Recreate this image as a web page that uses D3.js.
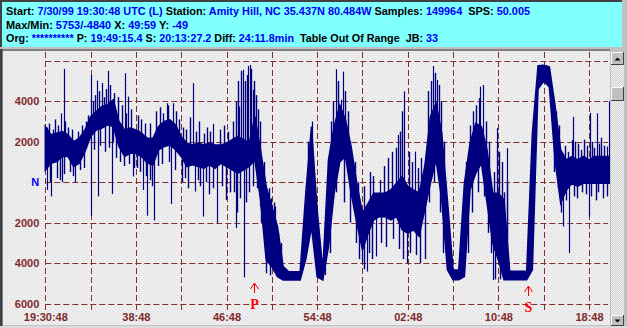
<!DOCTYPE html>
<html>
<head>
<meta charset="utf-8">
<title>Seismogram</title>
<script src="https://cdn.jsdelivr.net/npm/d3@7/dist/d3.min.js"></script>
<style>
  body { margin: 0; background: #c0c0c0; overflow: hidden; }
  svg { display: block; }
  text { white-space: pre; }
</style>
</head>
<body>
<svg id="chart" width="627" height="328"></svg>
<script>
// header lines: [text, isValue]
const hdrRows = [
  [["Start: ",0],["7/30/99 19:30:48 UTC (L)",1],[" Station: ",0],["Amity Hill, NC 35.437N 80.484W",1],[" Samples: ",0],["149964",1],["  SPS: ",0],["50.005",1]],
  [["Max/Min: ",0],["5753/-4840",1],[" X: ",0],["49:59",1],[" Y: ",0],["-49",1]],
  [["Org: ",0],["**********",1],[" P: ",0],["19:49:15.4",1],[" S: ",0],["20:13:27.2",1],[" Diff: ",0],["24:11.8min",1],["  Table Out Of Range  JB: ",0],["33",1]]
];

// time axis, seconds after 19:30:48
const xTicks  = [0,240,480,720,960,1200,1440,1680,1920,2160,2400,2640,2880];
const xLabels = ["19:30:48","","38:48","","46:48","","54:48","","02:48","","10:48","","18:48"];

// amplitude axis (counts)
const yTicks  = [6000,4000,2000,0,-2000,-4000,-6000];
const yLabels = ["","4000","2000","N","2000","4000","6000"];

// trace envelope, one pair every 30 s
const step = 30;
const hi = [2750,2340,2420,2500,2340,2000,2170,2580,3240,3490, 3740,3820,4070,3000,2580,2670,2580,2420,2170,2170,
  2750,3000,3080,2830,2250,1930,1840,1930,1840,1930, 1840,1840,1930,2100,2260,2100,1930,3250,1600,-210,
  -1200,-2190,-4170,-4420,-4420,-4420,-500,2750,-1370,-4340, 1100,2750,3800,3080,1760,-50,-1530,-1040,-540,-540,
  -540,-380,-50,280,-210,-380,-540,770,3240,3900, 2420,-870,-4330,-4330,-50,1930,2910,2750,1600,-540,
  -540,-870,-4400,-4400,-4400,-4400,2420,5750,5780,5700, 3800,1600,1100,1270,1100,1270,1100,1270,1270,1270,1270];
const lo = [600,940,1020,1270,1270,770,940,1500,2250,2580, 2670,2830,2750,1760,1270,1430,1430,1270,940,860,
  1600,1760,1840,1600,1270,770,860,770,690,860, 690,940,770,610,445,610,775,1100,-875,-3840,
  -4170,-4670,-4830,-4830,-4830,-4830,-3800,-2200,-4670,-4830, -3190,-550,1000,1270,-540,-2020,-3340,-2520,-1860,-1700,
  -1700,-1860,-1700,-2350,-2520,-2350,-2680,-1370,-50,1100, -870,-4330,-4820,-4820,-4660,-380,440,940,-1040,-3010,
  -3840,-4820,-4820,-4820,-4820,-4820,-4330,4600,5000,4700, 1100,-1040,-380,-50,-210,-50,-50,-50,-50,-50,-50];

// single spikes: [seconds, counts]
const spikes = [
  [7,-380],[30,-700],[83,3400],[88,0],[101,5600],[157,0],[241,-1650],[244,5300],[274,5020],[277,-700],
  [299,4900],[334,5500],[352,-580],[424,5380],[440,4230],[466,280],[519,-380],[540,-1650],[576,-1890],
  [643,3900],[666,-1070],[678,3900],[781,4890],[793,-460],[837,-1700],[890,2880],[911,-2020],
  [1010,-2270],[1028,3740],[1046,5550],[1054,-4700],[1076,5740],[1085,5790],[1099,4560],[1137,-1200],
  [1217,-1200],[1411,3000],[1482,-2030],[1540,5580],[1565,4070],[1576,5460],[1676,-4000],[1703,-4410],
  [1752,-3670],[1773,115],[1870,2340],[1902,4480],[1915,-4000],[1959,1510],[2006,860],[2052,5740],
  [2074,5050],[2209,-1780],[2298,4150],[2303,4720],[2320,4800],[2370,-4830],[2391,1680],[2395,2670],
  [2444,1680],[2744,-2190],[2776,-3500],[2789,2090],[2794,3230],[2882,-1700],[2883,3420],[2921,3400],
  [2974,1760],[2985,4000]
];
// smaller spikes poking out of the band
const ripples = [
  [9,2700],[20,2900],[41,2600],[51,3100],[67,2800],[104,3000],[120,2700],[141,2600],[173,2500],[194,2800],
  [216,3000],[227,3300],[25,0],[62,200],[78,100],[99,400],[131,500],[147,300],[184,600],[205,700],
  [253,4000],[263,4300],[285,4500],[311,4200],[322,4600],[343,4800],[364,4400],[385,4200],[406,3800],
  [428,3400],[454,3600],[258,1600],[290,1800],[316,1500],[338,1700],[359,2000],[375,1200],[396,1000],
  [417,800],[443,900],[470,700],
  [491,3300],[507,3100],[528,2900],[555,2900],[586,3500],[608,3700],[624,3400],[650,3800],[693,3500],
  [708,3100],[486,700],[502,500],[534,300],[556,100],[565,-200],[597,800],[618,900],[655,1000],[687,600],
  [730,2700],[745,2600],[767,3200],[798,2500],[814,3000],[841,2400],[857,2700],[873,2500],[926,2600],
  [947,2800],[968,2500],[724,0],[740,200],[756,-300],[809,100],[820,-200],[851,0],[867,-600],[888,-300],
  [936,-200],[957,-870],[979,-500],
  [994,3000],[1012,4000],[1021,5000],[1037,5500],[1058,5000],[1069,5300],[1090,5600],[1106,5000],
  [1117,4300],[1128,3600],[1138,3000],[998,-500],[1014,-1500],[1030,-800],[1064,-1000],[1080,-500],
  [1101,-200],[1122,-300],[1143,-2000],
  [1160,1000],[1170,-500],[1186,-300],[1196,-800],[1212,-1000],[1233,-2500],[1249,-3000],[1171,-4500],[1191,-4600],
  [1392,2000],[1514,3000],[1525,4000],[1551,5000],[1588,4500],[1604,3500],[1508,-3500],[1542,-500],
  [1583,-1000],[1615,-2000],
  [1640,1000],[1656,0],[1686,-200],[1720,500],[1736,300],[1794,800],[1815,1200],[1837,1500],[1858,1700],
  [1879,2500],[1890,3500],[1927,1500],[1943,1000],[1975,700],[1990,1200],[1646,-3000],[1662,-3800],
  [1690,-4300],[1715,-3500],[1731,-3800],[1776,-3000],[1804,-3200],[1842,-2800],[1874,-3300],[1895,-3800],
  [1932,-3500],[1964,-3600],[1985,-4000],[2009,-3800],
  [2028,4500],[2043,5000],[2065,5400],[2086,4800],[2096,4000],[2112,2000],[2033,-1000],[2059,0],
  [2091,-1500],[2107,-3500],
  [2229,1000],[2250,2800],[2266,3500],[2282,3800],[2335,3000],[2351,2000],[2240,-3500],[2261,-1500],
  [2292,-500],[2324,-700],[2345,-2500],[2361,-3500],
  [2377,500],[2404,1500],[2420,1000],[2430,-500],[2446,0],[2383,-4800],[2409,-4800],[2425,-4700],
  [2690,4000],[2706,3500],[2722,2800],[2695,500],[2717,-300],[2732,-1500],
  [2753,1800],[2769,1500],[2806,2000],[2822,1900],[2838,1600],[2854,2100],[2870,1800],[2897,2000],
  [2907,1700],[2934,1900],[2944,2200],[2960,1800],[2759,-900],[2801,-700],[2817,-800],[2844,-500],
  [2865,-600],[2891,-700],[2918,-900],[2929,-500],[2956,-800],[2977,-700]
];

// phase picks, seconds after start
const phases = [["P",1107.4],["S",2559.2]];
const phaseTop = [283,286];

const svg = d3.select("#chart");
const W = 627, H = 328;
const panel = {left: 3, top: 51, right: 610, bottom: 325};

const x = d3.scaleLinear().domain([0, 2880]).range([45.3, 589.0]);
const y = d3.scaleLinear().domain([-6000, 6000]).range([303.7, 60.7]);

const defs = svg.append("defs");
let pat = defs.append("pattern").attr("id","stip").attr("width",4).attr("height",4)
  .attr("patternUnits","userSpaceOnUse");
pat.append("rect").attr("width",4).attr("height",4).attr("fill","#ebebeb");
pat.append("rect").attr("x",0).attr("y",0).attr("width",1).attr("height",1).attr("fill","#f7f7f7");
pat.append("rect").attr("x",2).attr("y",2).attr("width",1).attr("height",1).attr("fill","#f7f7f7");
pat.append("rect").attr("x",3).attr("y",1).attr("width",1).attr("height",1).attr("fill","#dddddd");
pat.append("rect").attr("x",1).attr("y",3).attr("width",1).attr("height",1).attr("fill","#dddddd");
let pat2 = defs.append("pattern").attr("id","track").attr("width",2).attr("height",2)
  .attr("patternUnits","userSpaceOnUse");
pat2.append("rect").attr("width",2).attr("height",2).attr("fill","#d4d4d4");
pat2.append("rect").attr("width",1).attr("height",1).attr("fill","#efefef");
pat2.append("rect").attr("x",1).attr("y",1).attr("width",1).attr("height",1).attr("fill","#efefef");
defs.append("clipPath").attr("id","clip").append("rect")
  .attr("x",panel.left).attr("y",panel.top)
  .attr("width",panel.right-panel.left).attr("height",panel.bottom-panel.top);

// frame
svg.append("rect").attr("width",W).attr("height",H).attr("fill","#c0c0c0");
svg.append("rect").attr("x",0).attr("y",0).attr("width",622).attr("height",47).attr("fill","#404040");
svg.append("rect").attr("x",2).attr("y",2).attr("width",620).attr("height",45).attr("fill","#80ffff");
svg.append("rect").attr("x",0).attr("y",49).attr("width",610).attr("height",2).attr("fill","#808080");
svg.append("rect").attr("x",0).attr("y",49).attr("width",2.5).attr("height",277).attr("fill","#404040");
svg.append("rect").attr("x",panel.left).attr("y",panel.top)
  .attr("width",panel.right-panel.left).attr("height",panel.bottom-panel.top).attr("fill","url(#stip)");
svg.append("rect").attr("x",0).attr("y",326).attr("width",W).attr("height",2).attr("fill","#dcdcdc");

// header text
hdrRows.forEach((row, i) => {
  const t = svg.append("text")
    .attr("x", 6).attr("y", [15, 28.5, 42][i])
    .attr("textLength", [524, 182, 432][i])
    .attr("lengthAdjust", "spacingAndGlyphs")
    .style("font", "bold 10px 'Liberation Sans', Arial, sans-serif");
  row.forEach(seg => {
    t.append("tspan").text(seg[0]).attr("fill", seg[1] ? "#0000f0" : "#000000");
  });
});

// grid
const gridColor = "#7f3030";
svg.append("g").selectAll("line").data(yTicks).join("line")
  .attr("x1", x(0)).attr("x2", 608)
  .attr("y1", d => Math.round(y(d)) + 0.5).attr("y2", d => Math.round(y(d)) + 0.5)
  .attr("stroke", gridColor).attr("stroke-dasharray", "6,3");
svg.append("g").selectAll("line").data(xTicks).join("line")
  .attr("x1", d => Math.round(x(d)) + 0.5).attr("x2", d => Math.round(x(d)) + 0.5)
  .attr("y1", 52).attr("y2", 312)
  .attr("stroke", gridColor).attr("stroke-dasharray", "6,3");

// trace
const env = hi.map((h, i) => ({t: i * step, hi: h, lo: lo[i]}));
const trace = svg.append("g").attr("clip-path", "url(#clip)");
trace.append("path").datum(env)
  .attr("d", d3.area().x(d => x(d.t)).y0(d => y(d.lo)).y1(d => y(d.hi)))
  .attr("fill", "#000080").attr("stroke", "#000080").attr("stroke-width", 1.5);
const mid = t => {
  const i = Math.min(env.length - 1, Math.round(t / step));
  return (env[i].hi + env[i].lo) / 2;
};
function drawSpikes(data, cls, w) {
  trace.selectAll("line." + cls).data(data).join("line").attr("class", cls)
    .attr("x1", d => Math.round(x(d[0])) + 0.5).attr("x2", d => Math.round(x(d[0])) + 0.5)
    .attr("y1", d => y(mid(d[0]))).attr("y2", d => y(d[1]))
    .attr("stroke", "#000080").attr("stroke-width", w);
}
drawSpikes(ripples, "ripple", 1.4);
drawSpikes(spikes, "spike", 1.2);

// axes
const labelFont = "bold 11px 'Liberation Sans', Arial, sans-serif";
const yAxis = svg.append("g").attr("transform", "translate(45.3,0)")
  .call(d3.axisLeft(y).tickValues(yTicks).tickSize(0).tickPadding(6)
    .tickFormat((d, i) => yLabels[i]));
yAxis.select(".domain").remove();
yAxis.selectAll("text").style("font", labelFont)
  .attr("fill", (d, i) => yLabels[i] === "N" ? "#0000ff" : "#7f2a2a");

const xAxis = svg.append("g").attr("transform", "translate(0,313)")
  .call(d3.axisBottom(x).tickValues(xTicks).tickSize(0).tickPadding(0)
    .tickFormat((d, i) => xLabels[i]));
xAxis.select(".domain").remove();
xAxis.selectAll("text").style("font", labelFont).attr("fill", "#7f2a2a");

// phase markers
phases.forEach((p, i) => {
  const px = Math.round(x(p[1])) + 0.5, top = phaseTop[i];
  const g = svg.append("g").attr("stroke", "#ff0000").attr("fill", "none");
  g.append("line").attr("x1", px).attr("x2", px).attr("y1", top).attr("y2", top + 10);
  g.append("path").attr("d", `M${px-4},${top+6}L${px},${top}L${px+4},${top+6}`);
  svg.append("text").attr("x", px).attr("y", top + 26).attr("text-anchor", "middle")
    .attr("fill", "#ff0000").style("font", "bold 14px 'Liberation Serif', 'Times New Roman', serif")
    .text(p[0]);
});

// scrollbar
const sb = svg.append("g");
sb.append("rect").attr("x", 610).attr("y", 49).attr("width", 17).attr("height", 277).attr("fill", "#c0c0c0");
sb.append("rect").attr("x", 611).attr("y", 52).attr("width", 13).attr("height", 273).attr("fill", "url(#track)");
function button(yb, h, arrow) {
  sb.append("rect").attr("x", 611).attr("y", yb).attr("width", 13).attr("height", h).attr("fill", "#c0c0c0");
  sb.append("path").attr("d", `M611.5,${yb+h-0.5}V${yb+0.5}H623.5`).attr("stroke", "#ffffff").attr("fill", "none");
  sb.append("path").attr("d", `M611,${yb+h-0.5}H623.5V${yb}`).attr("stroke", "#404040").attr("fill", "none");
  if (arrow === "up")
    sb.append("path").attr("d", `M614.5,${yb+h/2+2}L617.5,${yb+h/2-1}L620.5,${yb+h/2+2}Z`).attr("fill", "#000");
  if (arrow === "down")
    sb.append("path").attr("d", `M614.5,${yb+h/2-1}L617.5,${yb+h/2+2}L620.5,${yb+h/2-1}Z`).attr("fill", "#000");
}
button(52, 13, "up");
button(87, 14, null);
button(315, 11, "down");
</script>
</body>
</html>
